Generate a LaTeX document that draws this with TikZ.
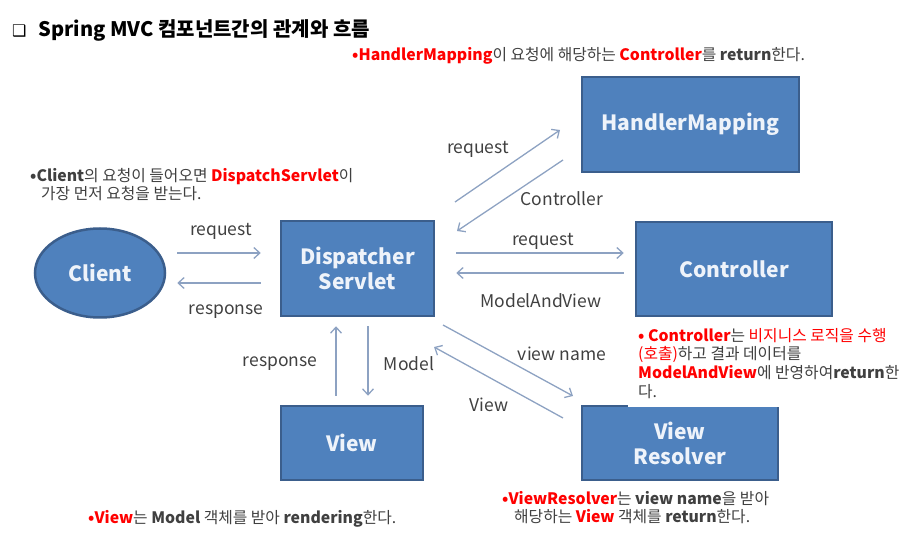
\documentclass[tikz,border=0pt]{standalone}
\usepackage{fontspec}
\setmainfont{Noto Sans CJK KR}
\newfontfamily\symfont{DejaVu Sans}
\usetikzlibrary{arrows.meta,shapes.geometric}
\definecolor{boxfill}{HTML}{4F81BD}
\definecolor{boxedge}{HTML}{3B5E8C}
\definecolor{arrowc}{HTML}{8DA2C2}
\definecolor{labc}{HTML}{404040}
\definecolor{hl}{HTML}{FF0000}
\definecolor{boxtext}{HTML}{EEF3FA}
\newcommand{\red}[1]{\textcolor{hl}{#1}}
\newcommand{\rb}[1]{\textcolor{hl}{\textbf{#1}}}
\begin{document}
\begin{tikzpicture}[x=1pt,y=-1pt,
  comp/.style={draw=boxedge, fill=boxfill, line width=2.5pt, text=boxtext,
    font=\fontsize{21}{25}\selectfont\bfseries, align=center, inner sep=0pt},
  arr/.style={draw=arrowc, line width=1.3pt, -{Straight Barb[length=6pt,width=11pt]}},
  lab/.style={text=labc, font=\fontsize{17.5}{20}\selectfont, inner sep=0pt},
  note/.style={text=labc, font=\fontsize{15.8}{18.6}\selectfont, align=left, inner sep=0pt, anchor=west}
]
\useasboundingbox (0,0) rectangle (913,545);

% title
\node[anchor=west, inner sep=0pt, font=\fontsize{20}{22}\selectfont\bfseries] (title) at (12,30)
  {{\symfont\fontsize{16}{18}\selectfont ❑}\hspace{12pt}Spring MVC 컴포넌트간의 관계와 흐름};

% components
\node[comp, minimum width=217pt, minimum height=95pt] (hm) at (690.5,124.5) {HandlerMapping};
\node[comp, minimum width=196pt, minimum height=94pt] (ctrl) at (734,269) {Controller};
\node[comp, minimum width=153pt, minimum height=95pt] (ds) at (357.5,268.5) {Dispatcher\\Servlet};
\node[comp, ellipse, minimum width=130pt, minimum height=89pt] (client) at (100,273) {Client};
\node[comp, minimum width=142pt, minimum height=74pt] (view) at (352,443) {View};
\node[comp, minimum width=196pt, minimum height=74pt] (vr) at (680,443) {View\\Resolver};

% connector end points
\coordinate (hmA) at (455,202);
\coordinate (hmB) at (560,130);
\coordinate (hmC) at (563,160);
\coordinate (hmD) at (457,231);
\coordinate (vrA) at (443,325);
\coordinate (vrB) at (573,396);
\coordinate (vrC) at (563,418);
\coordinate (vrD) at (434,347);

% connectors
\draw[arr] (client.east |- 0,253) ++(11,0) -- ([xshift=-19pt]ds.west |- 0,253);
\draw[arr] ([xshift=-19pt]ds.west |- 0,283) -- ([xshift=11pt]client.east |- 0,283);
\draw[arr] (hmA) -- (hmB);
\draw[arr] (hmC) -- (hmD);
\draw[arr] ([xshift=21pt]ds.east |- 0,253) -- ([xshift=-11pt]ctrl.west |- 0,253);
\draw[arr] ([xshift=-11pt]ctrl.west |- 0,273) -- ([xshift=21pt]ds.east |- 0,273);
\draw[arr] ([yshift=9pt]view.north -| 336,0) -- ([yshift=-9pt]ds.south -| 336,0);
\draw[arr] ([yshift=-9pt]ds.south -| 368,0) -- ([yshift=9pt]view.north -| 368,0);
\draw[arr] (vrA) -- (vrB);
\draw[arr] (vrC) -- (vrD);

% connector labels
\node[lab] (l1) at (221,231) {request};
\node[lab] (l2) at (226,312) {response};
\node[lab] (l3) at (478,149) {request};
\node[lab] (l4) at (562,199) {Controller};
\node[lab] (l5) at (543,241) {request};
\node[lab] (l6) at (541,301) {ModelAndView};
\node[lab] (l7) at (280,364) {response};
\node[lab] (l8) at (409,364) {Model};
\node[lab] (l9) at (562,354) {view name};
\node[lab] (l10) at (489,405) {View};

% notes
\node[note] (n1) at (352,56) {\rb{•HandlerMapping}이 요청에 해당하는 \rb{Controller}를 \textbf{return}한다.};
\node[note, anchor=north west] (n2) at (30,168) {\textbf{•Client}의 요청이 들어오면 \rb{DispatchServlet}이\\\hspace{11pt}가장 먼저 요청을 받는다.};
\node[note, anchor=north west, fill=white, inner xsep=10pt, inner ysep=9pt] (n3) at (628,319)
  {\rb{• Controller}는 \red{비지니스 로직을 수행}\\\red{(호출)}하고 결과 데이터를\\\rb{ModelAndView}에 반영하여\textbf{return}한\\다.};
\node[note] (n4) at (88,519) {\rb{•View}는 \textbf{Model} 객체를 받아 \textbf{rendering}한다.};
\node[note, anchor=north west] (n5) at (502,491) {\rb{•ViewResolver}는 \textbf{view name}을 받아\\\hspace{12pt}해당하는 \rb{View} 객체를 \textbf{return}한다.};
\end{tikzpicture}
\end{document}
